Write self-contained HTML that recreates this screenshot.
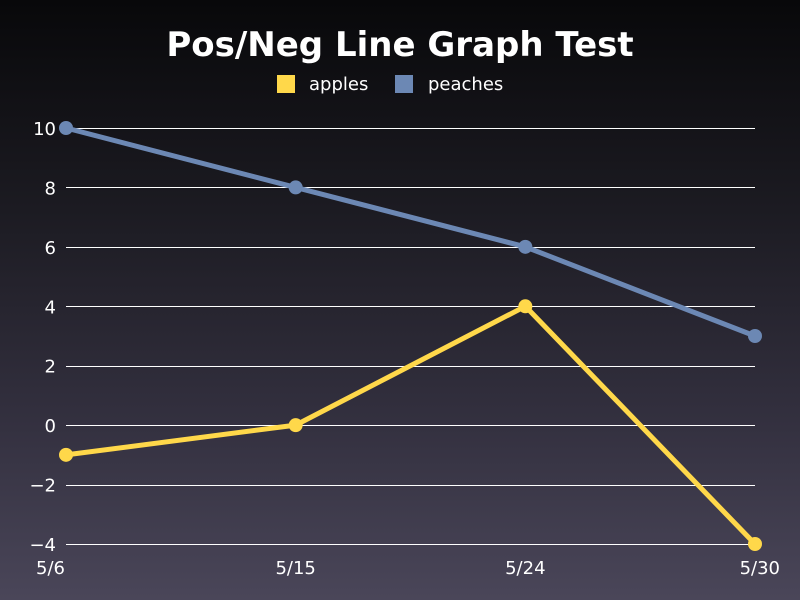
<!DOCTYPE html>
<html><head><meta charset="utf-8"><style>
html,body{margin:0;padding:0;}
body{width:800px;height:600px;overflow:hidden;background:linear-gradient(to bottom,#08080a 0%,#1c1b22 35%,#33303f 70%,#4a4659 100%);font-family:"DejaVu Sans","Liberation Sans",sans-serif;}
svg{display:block;}
</style></head><body>
<svg id="chart" width="800" height="600" xmlns="http://www.w3.org/2000/svg">
<text x="400" y="56" text-anchor="middle" fill="#fff" font-size="34" font-weight="bold" font-family="DejaVu Sans, Liberation Sans, sans-serif">Pos/Neg Line Graph Test</text>
<g>
<rect x="277" y="75" width="18" height="18" fill="#ffd84a"/>
<text x="309" y="90" fill="#fff" font-size="18">apples</text>
<rect x="395" y="75" width="18" height="18" fill="#6c88b4"/>
<text x="428" y="90" fill="#fff" font-size="18">peaches</text>
</g>
<g id="grid"></g><g id="axes"></g><g id="series"></g>
</svg>
<script>
const categories = ["5/6","5/15","5/24","5/30"];
const apples = [-1, 0, 4, -4];
const peaches = [10, 8, 6, 3];
const yTicks = [-4,-2,0,2,4,6,8,10];
const yTickLabels = ["\u22124","\u22122","0","2","4","6","8","10"];
const NS="http://www.w3.org/2000/svg";
const X0=66,X1=755,Y0=544,Y1=128,YMIN=-4,YMAX=10;
function xs(i){return X0+(X1-X0)*i/(categories.length-1);}
function ys(v){return Y0-(v-YMIN)*(Y0-Y1)/(YMAX-YMIN);}
function mk(tag,attrs,parent){const e=document.createElementNS(NS,tag);for(const k in attrs)e.setAttribute(k,attrs[k]);parent.appendChild(e);return e;}
const grid=document.getElementById('grid'),axes=document.getElementById('axes'),ser=document.getElementById('series');
yTicks.forEach((t,i)=>{
  const yy=Math.round(ys(t))+0.5;
  const l=mk('line',{x1:X0,x2:X1,y1:yy,y2:yy,stroke:'#fff','stroke-width':1},grid);
  
  
  const tx=mk('text',{x:56,y:ys(t)+7,'text-anchor':'end',fill:'#fff','font-size':18},axes);
  tx.textContent=yTickLabels[i];
  
  
});
categories.forEach((c,i)=>{
  let anchor=i===0?'start':(i===categories.length-1?'end':'middle');
  let x=xs(i); if(i===0)x=36; if(i===categories.length-1)x=780;
  const tx=mk('text',{x:x,y:574,'text-anchor':anchor,fill:'#fff','font-size':18},axes);
  tx.textContent=c;
  
  
});
function drawSeries(vals,color,name){
  const g=mk('g',{},ser);
  
  
  const p=mk('polyline',{points:vals.map((v,i)=>xs(i)+','+ys(v)).join(' '),fill:'none',stroke:color,'stroke-width':5,'stroke-linejoin':'round'},g);
  
  
  vals.forEach((v,i)=>{
    const c=mk('circle',{cx:xs(i),cy:ys(v),r:7,fill:color},g);
    
    
  });
}
drawSeries(peaches,'#6c88b4','peaches');
drawSeries(apples,'#ffd84a','apples');
</script>
</body></html>
